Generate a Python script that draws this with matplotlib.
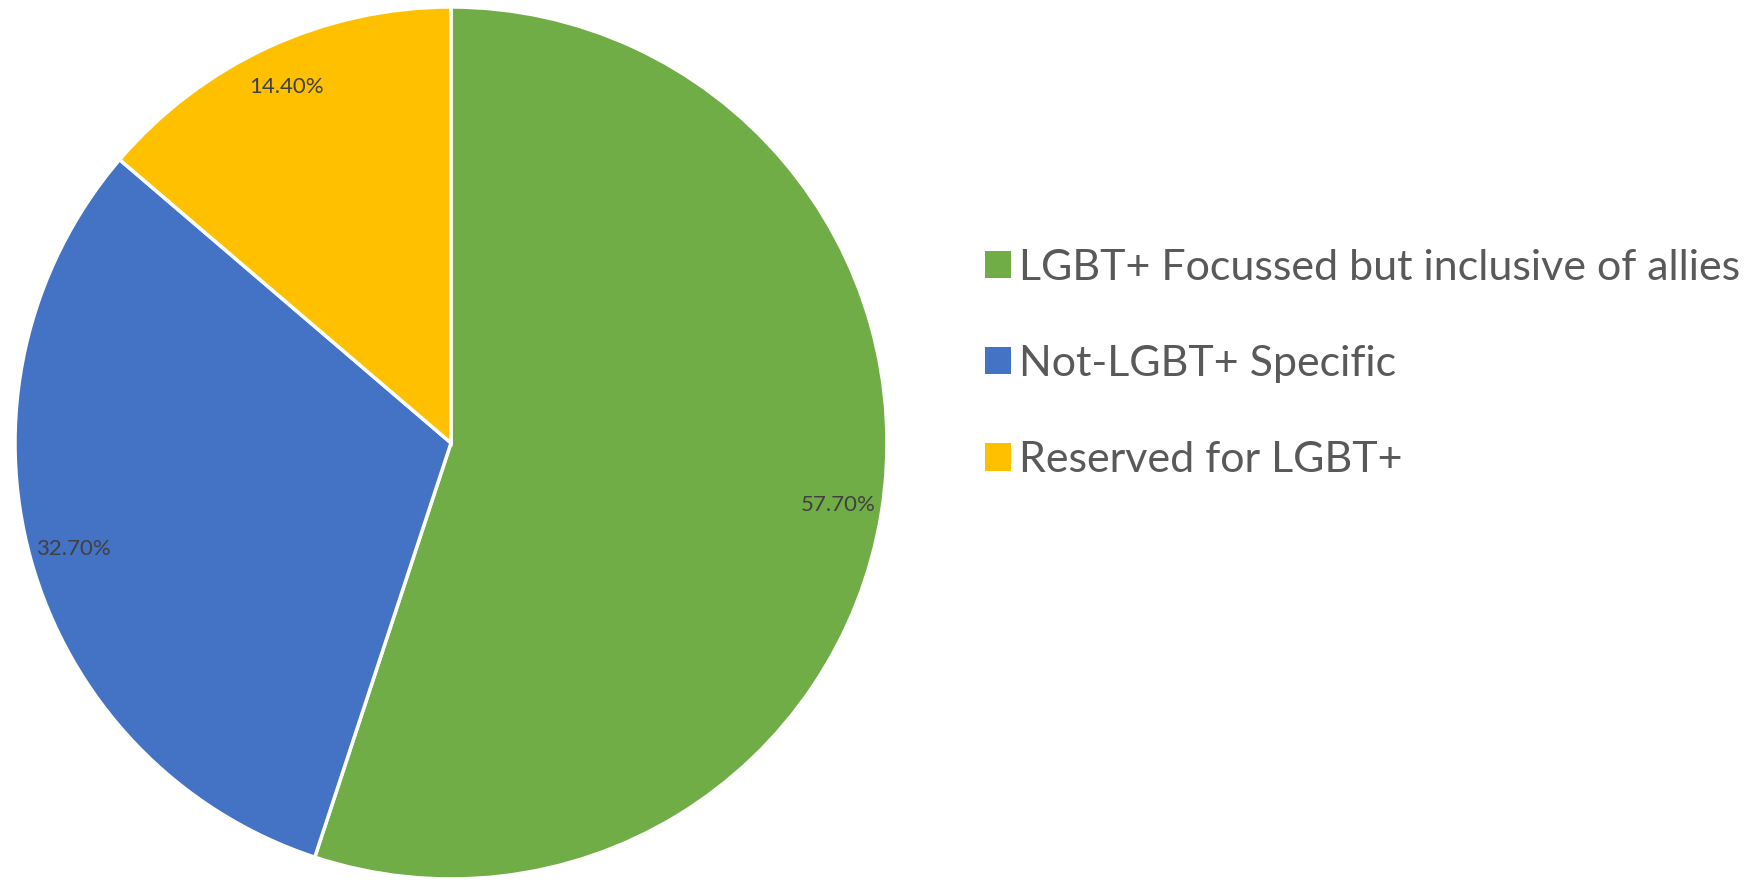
import matplotlib
matplotlib.use("Agg")
import matplotlib.pyplot as plt
from matplotlib.patches import Patch

categories = ["LGBT+ Focussed but inclusive of allies", "Not-LGBT+ Specific", "Reserved for LGBT+"]
values = [57.7, 32.7, 14.4]
value_labels = ["57.70%", "32.70%", "14.40%"]
colors = ["#70AD47", "#4472C4", "#FFC000"]

plt.rcParams['font.family'] = ['Lato', 'DejaVu Sans']

W, H = 1760, 880
fig = plt.figure(figsize=(W / 100, H / 100), dpi=100)
cx, cy, r = 451, 443, 436
ax = fig.add_axes([(cx - r) / W, (H - cy - r) / H, 2 * r / W, 2 * r / H])

lab_iter = iter(value_labels)
wedges, texts, autotexts = ax.pie(
    values, colors=colors, startangle=90, counterclock=False,
    wedgeprops=dict(edgecolor="white", linewidth=2.5),
    autopct=lambda p: next(lab_iter), pctdistance=0.9,
    textprops=dict(color="#404040", fontsize=16),
)
ax.set_xlim(-1, 1)
ax.set_ylim(-1, 1)
ax.set_aspect("equal")
ax.axis("off")

handles = [Patch(facecolor=c, edgecolor="none") for c in colors]
leg = fig.legend(
    handles, categories, loc="center left", bbox_to_anchor=(985 / W, 1 - 364 / H),
    frameon=False, fontsize=31, labelcolor="#595959",
    handlelength=0.6, handleheight=0.6, handletextpad=0.2, labelspacing=1.35,
    borderpad=0, borderaxespad=0,
)

fig.savefig("out.png", dpi=100)
